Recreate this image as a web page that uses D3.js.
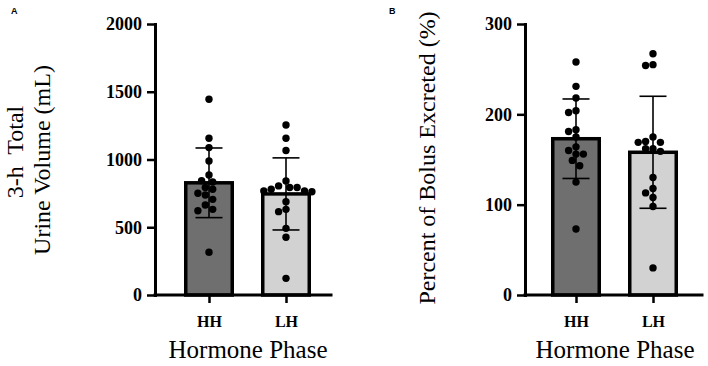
<!DOCTYPE html>
<html>
<head>
<meta charset="utf-8">
<script src="https://d3js.org/d3.v7.min.js"></script>
<style>
  body { margin: 0; background: #fff; }
  text { white-space: pre; }
</style>
</head>
<body>
<div id="chart-area"></div>
<script>
// Datos
var groups = ["HH", "LH"];

// A: 3-h total urine volume (mL)
var urineHH = [1445, 1157, 1088, 989, 886, 844, 834, 793, 780, 751, 738, 706, 664, 632, 622, 315];
var urineLH = [1255, 1157, 1066, 842, 805, 793, 793, 780, 768, 768, 762, 689, 632, 615, 492, 426, 123];
var urineMean = [828, 746];
var urineSD = [257, 266];
var urineTicks = [0, 500, 1000, 1500, 2000];

// B: percent of bolus excreted (%)
var bolusHH = [258, 231, 218, 204, 202, 183, 181, 175, 164, 160, 156, 156, 149, 143, 125, 73];
var bolusLH = [267, 255, 254, 175, 170, 169, 169, 162, 162, 159, 130, 118, 113, 108, 98, 30];
var bolusMean = [173, 158];
var bolusSD = [44, 62];
var bolusTicks = [0, 100, 200, 300];

var width = 708;
var height = 366;
var top0 = 24, bottom0 = 295;
var barW = 46.5;
var dotR = 3.7;
var fills = ["#6f6f6f", "#d2d2d2"];
var serif = "'Liberation Serif', 'Times New Roman', serif";

var svg = d3.select("#chart-area")
    .append("svg")
    .attr("width", width)
    .attr("height", height);

// simple beeswarm: place each dot at the nearest free horizontal slot
function swarm(values, y, cx) {
    var placed = [];
    var step = dotR;
    values.slice().sort((a, b) => b - a).forEach((v) => {
        var py = y(v);
        for (var k = 0; k < 40; k++) {
            var off = (k % 2 === 0 ? 1 : -1) * Math.ceil(k / 2) * step;
            var ok = placed.every((p) => {
                var dx = p.x - (cx + off), dy = p.y - py;
                return dx * dx + dy * dy >= (2 * dotR) * (2 * dotR) * 0.92;
            });
            if (ok) { placed.push({x: cx + off, y: py}); break; }
        }
    });
    return placed;
}

function drawPanel(p) {
    var g = svg.append("g")
        .attr("transform", "translate(" + p.left + ",0)");

    var y = d3.scaleLinear().domain([0, p.max]).range([bottom0, top0]);
    var x = d3.scalePoint().domain(groups).range([p.first, p.first + 77]);

    // barras
    g.selectAll("rect.bar").data(groups).enter().append("rect")
        .attr("class", "bar")
        .attr("x", (d) => x(d) - barW / 2)
        .attr("y", (d, i) => y(p.mean[i]))
        .attr("width", barW)
        .attr("height", (d, i) => y(0) - y(p.mean[i]))
        .attr("fill", (d, i) => fills[i])
        .attr("stroke", "#000")
        .attr("stroke-width", 3.5);

    // error bars (mean +/- SD)
    groups.forEach((d, i) => {
        var cx = x(d);
        var hi = y(p.mean[i] + p.sd[i]), lo = y(p.mean[i] - p.sd[i]);
        g.append("line").attr("x1", cx).attr("x2", cx).attr("y1", hi).attr("y2", lo)
            .attr("stroke", "#000").attr("stroke-width", 1.6);
        [hi, lo].forEach((yy) => {
            g.append("line").attr("x1", cx - 13.5).attr("x2", cx + 13.5).attr("y1", yy).attr("y2", yy)
                .attr("stroke", "#000").attr("stroke-width", 1.6);
        });
    });

    // puntos individuales
    [p.hh, p.lh].forEach((vals, i) => {
        g.selectAll("circle.g" + i).data(swarm(vals, y, x(groups[i]))).enter().append("circle")
            .attr("class", "g" + i)
            .attr("cx", (d) => d.x)
            .attr("cy", (d) => d.y)
            .attr("r", dotR)
            .attr("fill", "#000");
    });

    // eje Y
    var leftAxis = d3.axisLeft(y).tickValues(p.ticks).tickFormat(d3.format("d"))
        .tickSize(8).tickSizeOuter(0).tickPadding(5);
    var ya = g.append("g").attr("class", "left axis").call(leftAxis);
    ya.select(".domain").attr("stroke-width", 3).attr("stroke-linecap", "square");
    ya.selectAll(".tick line").attr("stroke-width", 2.5);
    ya.selectAll("text")
        .attr("font-family", serif)
        .attr("font-weight", "bold")
        .attr("font-size", "18px")
        .attr("fill", "#000");

    // eje X
    var bottomAxis = d3.axisBottom(x).tickSize(8).tickSizeOuter(0);
    var xa = g.append("g").attr("class", "bottom axis")
        .attr("transform", "translate(0," + bottom0 + ")")
        .call(bottomAxis);
    xa.select(".domain").remove();
    xa.selectAll(".tick line").attr("stroke-width", 2.5);
    xa.selectAll("text")
        .attr("y", 21)
        .attr("font-family", serif)
        .attr("font-weight", "bold")
        .attr("font-size", "16px")
        .attr("fill", "#000");
    g.append("line")
        .attr("x1", 0).attr("x2", p.axisLen)
        .attr("y1", bottom0).attr("y2", bottom0)
        .attr("stroke", "#000").attr("stroke-width", 3)
        .attr("stroke-linecap", "square");

    // X Axis Label
    g.append("text")
        .attr("x", p.xTitle)
        .attr("y", 358)
        .attr("text-anchor", "middle")
        .attr("font-family", serif)
        .attr("font-size", "25px")
        .attr("fill", "#000")
        .text("Hormone Phase");

    // Y Axis Label
    p.yTitle.forEach((t) => {
        svg.append("text")
            .attr("transform", "translate(" + t.x + "," + t.y + ") rotate(-90)")
            .attr("text-anchor", "middle")
            .attr("font-family", serif)
            .attr("font-size", "24px")
            .attr("fill", "#000")
            .text(t.text);
    });

    // panel letter
    svg.append("text")
        .attr("x", p.letterX)
        .attr("y", 14)
        .attr("font-family", "'Liberation Sans', Arial, sans-serif")
        .attr("font-weight", "bold")
        .attr("font-size", "9px")
        .attr("fill", "#000")
        .text(p.letter);
}

drawPanel({
    left: 155, first: 54, axisLen: 176, max: 2000, ticks: urineTicks,
    hh: urineHH, lh: urineLH, mean: urineMean, sd: urineSD,
    xTitle: 93, letter: "A", letterX: 11,
    yTitle: [{text: "3-h  Total", x: 23, y: 152}, {text: "Urine Volume (mL)", x: 50, y: 160}]
});

drawPanel({
    left: 525, first: 51, axisLen: 177, max: 300, ticks: bolusTicks,
    hh: bolusHH, lh: bolusLH, mean: bolusMean, sd: bolusSD,
    xTitle: 90, letter: "B", letterX: 389,
    yTitle: [{text: "Percent of Bolus Excreted (%)", x: 435, y: 158}]
});
</script>
</body>
</html>
